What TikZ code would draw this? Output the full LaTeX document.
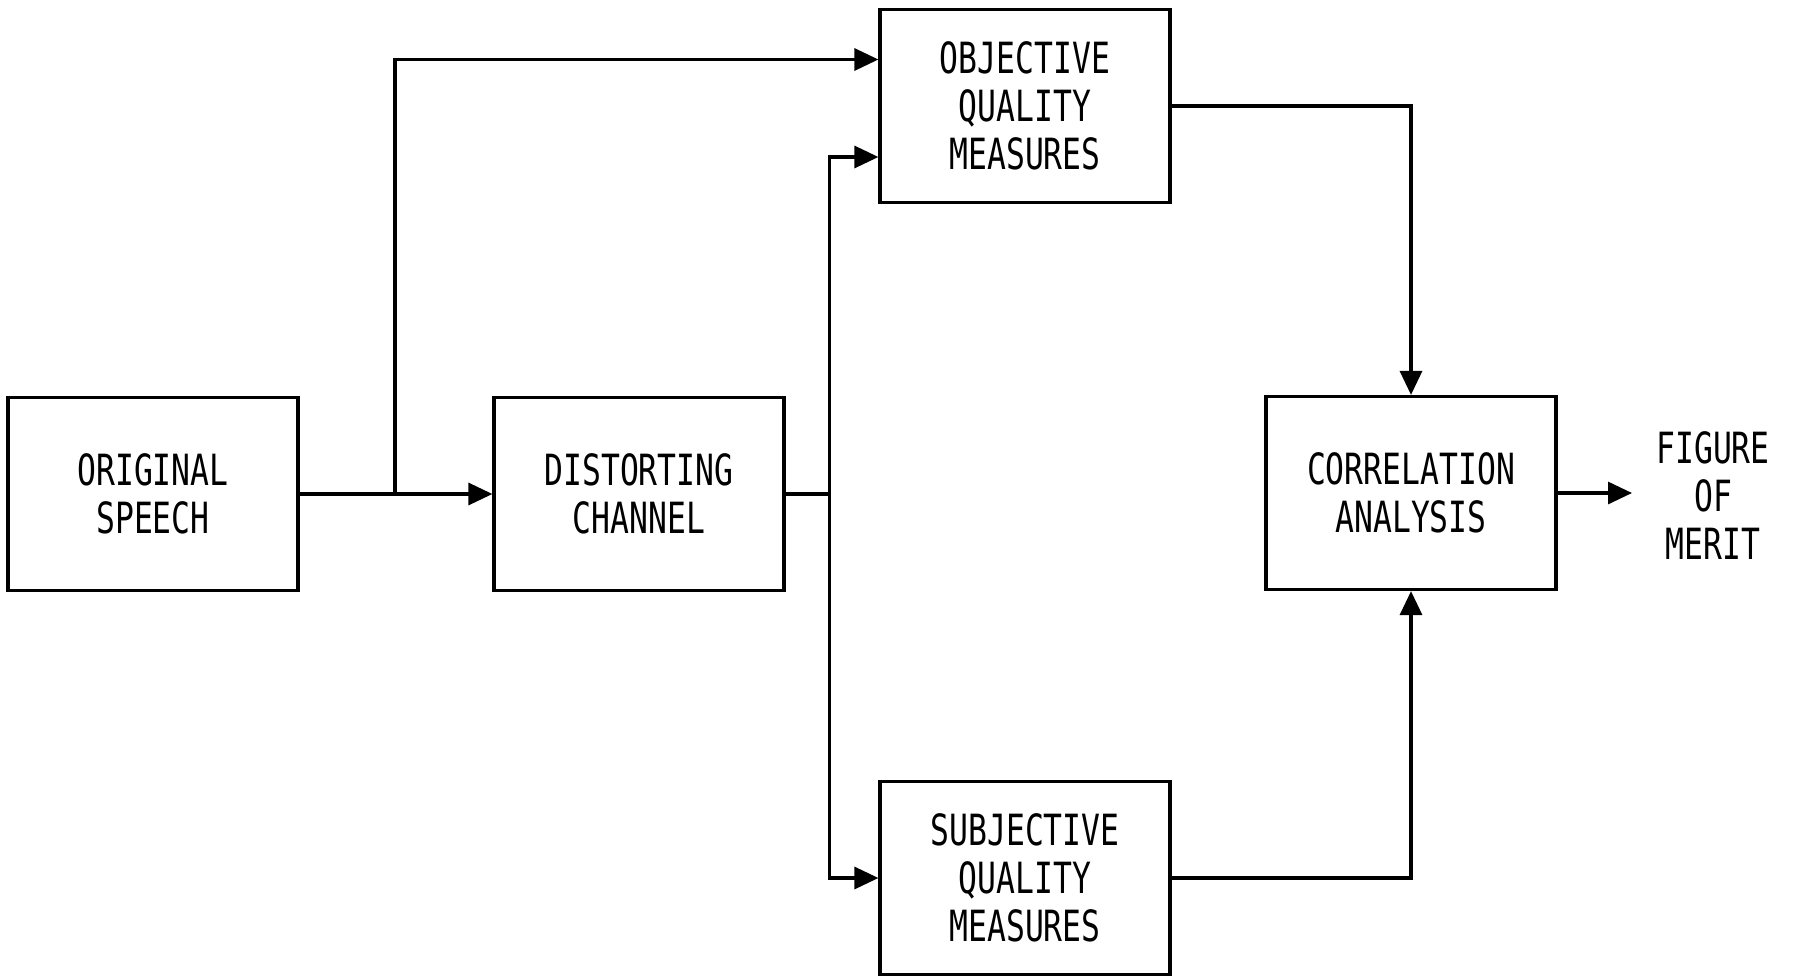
\documentclass[tikz,border=0pt]{standalone}
\usepackage{fontspec}
\setmainfont[FakeStretch=0.73]{DejaVu Sans Mono}
\usetikzlibrary{arrows.meta,calc}
\begin{document}
\begin{tikzpicture}[x=0.5pt, y=-0.5pt, line width=1.6pt,
    >={Triangle[length=12pt,width=11pt]},
    block/.style={draw, minimum width=145pt, minimum height=96.5pt, inner sep=0pt,
        align=center, font=\fontsize{21.5}{24}\selectfont}]
\useasboundingbox (0,0) rectangle (1794,975);

\node[block] (orig) at (153,494) {ORIGINAL\\SPEECH};
\node[block] (dist) at (639,494) {DISTORTING\\CHANNEL};
\node[block] (obj) at (1025,106) {OBJECTIVE\\QUALITY\\MEASURES};
\node[block] (subj) at (1025,878) {SUBJECTIVE\\QUALITY\\MEASURES};
\node[block] (corr) at (1411,493) {CORRELATION\\ANALYSIS};
\node[align=center, font=\fontsize{21.5}{24}\selectfont] (fom) at (1713,496) {FIGURE\\OF\\MERIT};

\coordinate (b1) at (395,494);
\coordinate (b2) at (829.5,494);
\coordinate (out) at (1632,493);

\draw[->] (orig) -- (dist);
\draw[->] (b1) |- ($(obj.west)+(0,-46.5)$);
\draw (dist) -- (b2);
\draw[->] (b2) |- ($(obj.west)+(0,51)$);
\draw[->] (b2) |- (subj.west);
\draw[->] (obj.east) -| (corr.north);
\draw[->] (subj.east) -| (corr.south);
\draw[->] (corr.east) -- (out);
\end{tikzpicture}
\end{document}
